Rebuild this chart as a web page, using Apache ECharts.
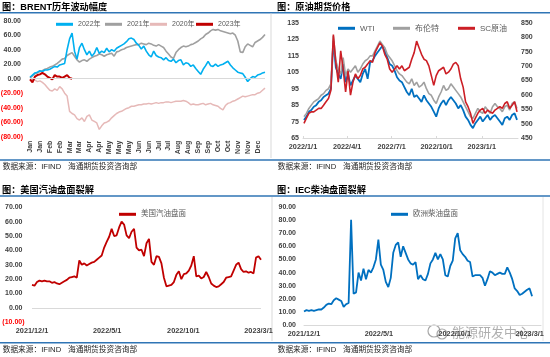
<!DOCTYPE html>
<html><head><meta charset="utf-8">
<script src="https://cdn.jsdelivr.net/npm/echarts@6.0.0/dist/echarts.min.js"></script>
<style>html,body{margin:0;padding:0;background:#fff}#c{width:550px;height:357px}</style>
</head><body><div id="c"></div>
<script>
// ---------- DATA ----------
const brentMonthLabels = ['Jan','Jan','Feb','Feb','Mar','Mar','Apr','Apr','May','May','May','Jun','Jun','Jul','Jul','Aug','Aug','Sep','Sep','Oct','Oct','Nov','Nov','Dec'];
const brentSeriesNames = ['2022年','2021年','2020年','2023年'];
const brent2022 = [2,5,8,9,11,10,12,12,13,15, 17,16,19,20,21,40,55,63,38,27, 43,49,40,33,38,31,35,43,35,38, 36,42,37,40,38,42,44,46,48,51, 55,56,54,49,46,41,45,38,33,30, 38,32,30,29,26,29,25,24,27,22, 25,26,19,22,21,17,19,14,10,6, 13,18,24,18,17,20,17,19,20,22, 24,19,15,12,9,8,7,2,-4,0, 3,2,5,6,8,9];
const brent2021 = [1,4,7,8,10,11,13,14,16,17, 19,21,24,27,28,32,34,36,31,26, 23,25,26,24,27,29,31,32,34,33, 31,33,34,35,31,37,38,40,41,43, 44,45,46,47,47,49,48,47,49,48, 46,45,47,45,43,38,34,30,28,36, 40,43,45,44,45,47,48,50,52,55, 57,61,63,66,68,67,68,66,65,64, 63,62,63,60,52,37,36,44,48,46, 44,50,52,54,57,61];
const brent2020 = [0,-1,-2,-4,-3,-5,-8,-12,-16,-17, -14,-16,-11,-14,-20,-24,-45,-48,-50,-55, -57,-54,-59,-52,-50,-57,-59,-61,-70,-65, -61,-60,-58,-54,-51,-48,-46,-45,-43,-41, -40,-38,-38,-37,-36,-36,-35,-35,-34,-35, -34,-33,-34,-33,-33,-32,-32,-33,-32,-31, -31,-31,-30,-31,-33,-36,-35,-36,-36,-35, -34,-36,-35,-34,-36,-37,-38,-41,-43,-37, -34,-33,-31,-30,-28,-26,-24,-25,-24,-23, -22,-22,-20,-19,-16,-13];
const brent2023 = [-1,-5,3,5,6,8,6,3,1,-1,5,3,3,1,3,5,1,0];

const oilDateLabels = ['2022/1/1','2022/4/1','2022/7/1','2022/10/1','2023/1/1'];
const oilStart = '2022/1/3', oilStepDays = 5, oilEnd = '2023/3/16';
const oilLeftTicks = [65,75,85,95,105,115,125,135];
const oilRightTicks = [450,500,550,600,650,700,750,800,850];
const oilNames = ['WTI','布伦特','SC原油'];
const wti = [76,78,81,82,84,85,87,88,90,91, 92,95,124,108,104,101,110,99,104,97, 100,103,101,99,104,107,101,111,112,115, 117,119,121,118,114,110,109,106,102,100, 99,96,93,91,95,90,91,89,87,91, 88,86,84,81,78,83,86,88,85,88, 90,88,86,83,85,82,78,76,73,71, 74,76,78,75,77,79,76,78,79,77, 75,73,77,78,76,79,80,76];
const brent = [78,80,83,85,87,88,89,91,92,94, 95,98,127,112,107,104,114,103,107,105, 107,109,105,107,110,112,113,115,115,118, 121,124,122,120,116,114,112,109,106,104, 103,101,99,98,101,97,99,96,97,99, 95,92,91,88,86,90,93,97,94,95, 98,96,94,92,90,87,84,81,78,77, 80,83,81,80,84,82,80,84,86,84, 83,81,84,85,82,86,87,83];
const scOil = [501,519,536,541,541,547,553,553,564,576, 587,616,810,713,644,753,690,610,684,599, 644,673,656,667,690,696,707,719,713,747, 764,781,770,741,724,690,679,690,701,690, 701,684,690,696,724,747,787,764,741,724, 719,701,667,633,667,684,690,696,673,679, 690,707,713,701,656,627,576,559,536,501, 519,536,547,553,536,547,541,536,547,553, 559,553,570,576,553,564,576,541];

const crackDateLabels = ['2021/12/1','2022/5/1','2022/10/1','2023/3/1'];
const crackStart = '2021/12/1', crackStepDays = 5;
const gasolineName = '美国汽油盘面';
const gasoline = [16,15.5,18,19,18.5,19,18.5,18.5,17.5,18, 17,16.5,17.5,18.5,19.5,21,21.5,22,21,33, 30,31,29.5,30.5,31.5,32,33.5,35,36.5,42, 46,49.5,55,50,50.5,56,60,58,50.5,48.5, 53,55,42,40,40.5,36,45,48,32,30, 36,35.5,31,21,15,15.5,16,18,23,25.5, 20,23.5,24,26,29.5,36,22,22.5,20.5,21.5, 25,21.5,17,15.5,14.5,15,16.5,18,21,21.5, 22,26,30,31.5,27,25,25.5,24.5,25,24, 35,36,33.5];
const dieselName = '欧洲柴油盘面';
const diesel = [10.5,11.5,11,11.5,11,11.5,12,12,13.5,15.5, 16.5,16,19,20.5,19.5,18.5,14,16,17,80, 24,25,40,34,43,35,42,40,44,50, 65,46,42,33,29,36,55,61,63,52, 60,55,50,47,46,48,35,38,35,34, 39,47,50,55,50,54,50,38,37,45, 49,66,70,57,54,52,49,48,37,38, 38,38,36,30,35,41,40,38,39,40, 39,39,44,40,35,28,26,23,24,25.5, 27,28,22];

const titles = ['图：BRENT历年波动幅度','图：原油期货价格','图：美国汽油盘面裂解','图：IEC柴油盘面裂解'];
const sourceA = '数据来源：IFIND', sourceB = '海通期货投资咨询部';
const watermark = '能源研发中心';

// ---------- HELPERS ----------
const FONT = '"Liberation Sans", Arial, "Noto Sans CJK SC", sans-serif';
const DAY = 86400000;
const parseDate = s => { const p = s.split('/').map(Number); return Date.UTC(p[0], p[1]-1, p[2]); };
const fmtDate = v => { const d = new Date(v); return d.getUTCFullYear()+'/'+(d.getUTCMonth()+1)+'/'+d.getUTCDate(); };
const timeSeries = (start, step, vals) => { const t0 = parseDate(start); return vals.map((v,i)=>[t0 + i*step*DAY, v]); };
const brentCats = [];
brentMonthLabels.forEach(m => { for (let r=0;r<4;r++) brentCats.push(m); });
const oilLabelVals = oilDateLabels.map(parseDate);
const crackLabelVals = crackDateLabels.map(parseDate);

const labelStyle = {fontSize:7, fontWeight:'bold', color:'#404040', fontFamily:FONT};
const parenFmt = v => v < 0 ? '{n|(' + Math.abs(v).toFixed(2) + ')}' : '{p|' + v.toFixed(2) + '}';
const parenRich = {n:{color:'#ff0000', fontSize:7, fontWeight:'bold', fontFamily:FONT},
                   p:{color:'#404040', fontSize:7, fontWeight:'bold', fontFamily:FONT, padding:[0,2,0,0]}};
const zeroLine = {silent:true, symbol:'none', animation:false, label:{show:false},
                  lineStyle:{color:'#d9d9d9', width:1, type:'solid'}, data:[{yAxis:0}]};
const line = (color, width) => ({showSymbol:false, symbol:'none', lineStyle:{color, width}, itemStyle:{color}, emphasis:{disabled:true}});
const legendItem = (name, left, top, fs) => ({data:[name], left, top, padding:0, icon:'rect', itemWidth:17, itemHeight:3,
  textStyle:{fontSize:fs, color:'#595959', fontFamily:FONT, lineHeight:10}, selectedMode:false});

const txt = (text, x, y, font, fill) => ({type:'text', silent:true,
  style:{text, x, y, font, fill, textVerticalAlign:'middle'}});
const hline = (x1,y1,x2,y2,stroke,w) => ({type:'line', silent:true, shape:{x1,y1,x2,y2}, style:{stroke, lineWidth:w}});
const titleFont = 'bold 9.2px ' + FONT;
const srcFont = '7.7px ' + FONT;
const BLUE = '#2f75b5';
const dateAxis = (grid, min, max, vals, showLine, tick) => ({gridIndex:grid, type:'value', min, max, scale:true,
  axisLine:{show:showLine, onZero:false, lineStyle:{color:'#d9d9d9'}}, splitLine:{show:false},
  axisTick:{show:tick, customValues:vals, length:2, inside:true, lineStyle:{color:'#d9d9d9'}},
  axisLabel:Object.assign({customValues:vals, formatter:fmtDate, margin:5}, labelStyle, {fontSize:7.3})});

const option = {
  animation:false,
  textStyle:{fontFamily:FONT},
  grid:[
    {left:30, top:20.7, width:235, height:116, outerBoundsMode:'none'},
    {left:303, top:23, width:215, height:115, outerBoundsMode:'none'},
    {left:32, top:207.3, width:229, height:115, outerBoundsMode:'none'},
    {left:304, top:206.7, width:237, height:118.6, outerBoundsMode:'none'}
  ],
  legend:[
    legendItem(brentSeriesNames[0], 56, 19.3, 7),
    legendItem(brentSeriesNames[1], 105, 19.3, 7),
    legendItem(brentSeriesNames[2], 150, 19.3, 7),
    legendItem(brentSeriesNames[3], 196, 19.3, 7),
    legendItem(oilNames[0], 338, 23.3, 8),
    legendItem(oilNames[1], 393, 23.3, 8),
    legendItem(oilNames[2], 458, 23.3, 8),
    legendItem(gasolineName, 119, 209.3, 7.5),
    legendItem(dieselName, 391, 209.3, 7.5)
  ],
  xAxis:[
    {gridIndex:0, type:'category', data:brentCats, boundaryGap:false,
     axisLine:{show:false}, axisTick:{show:false}, splitLine:{show:false},
     axisLabel:Object.assign({interval:3, rotate:90, margin:4}, labelStyle)},
    dateAxis(1, parseDate('2022/1/1'), parseDate(oilEnd), oilLabelVals, true, true),
    dateAxis(2, parseDate(crackStart), parseDate('2023/3/6'), crackLabelVals, false, false),
    dateAxis(3, parseDate(crackStart), parseDate('2023/3/24'), crackLabelVals, true, false)
  ],
  yAxis:[
    {gridIndex:0, type:'value', min:-80, max:80, interval:20, splitLine:{show:false}, axisLine:{show:false}, axisTick:{show:false},
     axisLabel:{formatter:parenFmt, rich:parenRich, margin:7}},
    {gridIndex:1, type:'value', min:65, max:135, splitLine:{show:false}, axisLine:{show:false}, axisTick:{show:false},
     axisLabel:Object.assign({customValues:oilLeftTicks, margin:4}, labelStyle)},
    {gridIndex:1, type:'value', position:'right', min:450, max:850, splitLine:{show:false}, axisLine:{show:false}, axisTick:{show:false},
     axisLabel:Object.assign({customValues:oilRightTicks, margin:3}, labelStyle)},
    {gridIndex:2, type:'value', min:-10, max:70, interval:10, splitLine:{show:false}, axisLine:{show:false}, axisTick:{show:false},
     axisLabel:{formatter:parenFmt, rich:parenRich, margin:7.5}},
    {gridIndex:3, type:'value', min:0, max:90, interval:10, splitLine:{show:false}, axisLine:{show:false}, axisTick:{show:false},
     axisLabel:Object.assign({formatter:v=>v.toFixed(2), margin:8}, labelStyle)}
  ],
  series:[
    Object.assign({type:'line', name:brentSeriesNames[2], xAxisIndex:0, yAxisIndex:0, data:brent2020, markLine:zeroLine}, line('#e6b9b8',1.5)),
    Object.assign({type:'line', name:brentSeriesNames[1], xAxisIndex:0, yAxisIndex:0, data:brent2021}, line('#a0a0a0',1.6)),
    Object.assign({type:'line', name:brentSeriesNames[0], xAxisIndex:0, yAxisIndex:0, data:brent2022}, line('#00b0f0',1.6)),
    Object.assign({type:'line', name:brentSeriesNames[3], xAxisIndex:0, yAxisIndex:0, data:brent2023}, line('#c00000',2)),
    Object.assign({type:'line', name:oilNames[0], xAxisIndex:1, yAxisIndex:1, data:timeSeries(oilStart, oilStepDays, wti)}, line('#0070c0',1.8)),
    Object.assign({type:'line', name:oilNames[1], xAxisIndex:1, yAxisIndex:1, data:timeSeries(oilStart, oilStepDays, brent)}, line('#a0a0a0',1.6)),
    Object.assign({type:'line', name:oilNames[2], xAxisIndex:1, yAxisIndex:2, data:timeSeries(oilStart, oilStepDays, scOil)}, line('#cc1f26',1.6)),
    Object.assign({type:'line', name:gasolineName, xAxisIndex:2, yAxisIndex:3, data:timeSeries(crackStart, crackStepDays, gasoline), markLine:zeroLine}, line('#c00000',1.8)),
    Object.assign({type:'line', name:dieselName, xAxisIndex:3, yAxisIndex:4, data:timeSeries(crackStart, crackStepDays, diesel)}, line('#0070c0',1.8))
  ],
  graphic:[
    hline(0,12.8,550,12.8,BLUE,1.5),
    hline(0,160,550,160,BLUE,1.5),
    hline(0,196,550,196,BLUE,1.5),
    hline(0,342.7,550,342.7,BLUE,1.5),
    hline(271,13.5,271,158,'#d9d9d9',1),
    hline(272,197,272,341,'#d9d9d9',1),
    hline(543,197,543,341,'#e4e4e4',1),
    txt(titles[0], 2, 7.5, titleFont, '#000'),
    txt(titles[1], 277, 7.5, titleFont, '#000'),
    txt(titles[2], 2, 190.5, titleFont, '#000'),
    txt(titles[3], 277, 190.5, titleFont, '#000'),
    txt(sourceA, 2.7, 167, srcFont, '#262626'),
    txt(sourceB, 68, 167, srcFont, '#262626'),
    txt(sourceA, 277.7, 167, srcFont, '#262626'),
    txt(sourceB, 343, 167, srcFont, '#262626'),
    txt(sourceA, 2.7, 350, srcFont, '#262626'),
    txt(sourceB, 68, 350, srcFont, '#262626'),
    txt(sourceA, 277.7, 350, srcFont, '#262626'),
    txt(sourceB, 343, 350, srcFont, '#262626'),
    {type:'circle', silent:true, shape:{cx:434, cy:331, r:6}, style:{fill:'none', stroke:'rgba(110,110,110,0.6)', lineWidth:1.2}},
    {type:'circle', silent:true, shape:{cx:442, cy:334, r:5}, style:{fill:'none', stroke:'rgba(110,110,110,0.6)', lineWidth:1.2}},
    txt(watermark, 452, 332, '13px "Noto Sans CJK SC", sans-serif', 'rgba(110,110,110,0.55)')
  ]
};
const chart = echarts.init(document.getElementById('c'), null, {renderer:'canvas', width:550, height:357});
chart.setOption(option);
</script>
</body></html>
